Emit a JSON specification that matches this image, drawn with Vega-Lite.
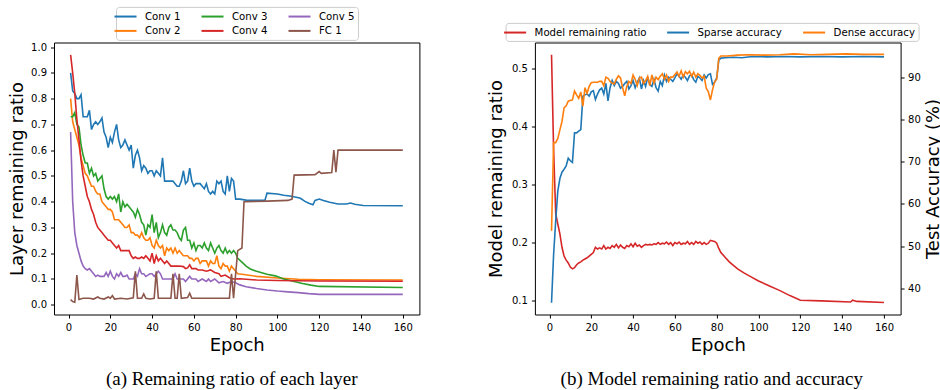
{
  "$schema": "https://vega.github.io/schema/vega-lite/v6.json",
  "background": "white",
  "padding": {"left": 8, "top": 5.5, "right": 0, "bottom": 0},
  "config": {
    "view": {"stroke": "black", "strokeWidth": 1},
    "font": "DejaVu Sans",
    "axis": {"grid": false, "domain": false, "tickColor": "black", "tickSize": 3.5, "tickWidth": 1, "labelFont": "DejaVu Sans", "labelFontSize": 10, "labelColor": "black", "titleFont": "DejaVu Sans", "titleFontSize": 18, "titleFontWeight": "normal", "titleColor": "black"},
    "legend": {"labelFont": "DejaVu Sans", "labelFontSize": 10.2, "labelColor": "black", "symbolType": "M-2,0L2,0", "symbolSize": 121, "symbolStrokeWidth": 2, "labelOffset": 13, "columnPadding": 16, "rowPadding": 2.5, "padding": 3, "strokeColor": "#cccccc", "fillColor": "white", "cornerRadius": 3},
    "title": {"font": "Liberation Serif", "fontSize": 19, "fontWeight": "normal", "color": "black", "orient": "bottom", "frame": "group", "anchor": "middle"}
  },
  "bounds": "flush",
  "spacing": 114.9,
  "resolve": {"scale": {"color": "independent"}, "legend": {"color": "independent"}},
  "datasets": {
    "layers": [
      {"epoch":1,"layer":"Conv 1","ratio":0.90},{"epoch":2,"layer":"Conv 1","ratio":0.83},{"epoch":3,"layer":"Conv 1","ratio":0.82},{"epoch":4,"layer":"Conv 1","ratio":0.80},{"epoch":5,"layer":"Conv 1","ratio":0.80},{"epoch":6,"layer":"Conv 1","ratio":0.815},{"epoch":7,"layer":"Conv 1","ratio":0.73},{"epoch":8,"layer":"Conv 1","ratio":0.73},{"epoch":9,"layer":"Conv 1","ratio":0.73},{"epoch":10,"layer":"Conv 1","ratio":0.755},{"epoch":11,"layer":"Conv 1","ratio":0.68},{"epoch":12,"layer":"Conv 1","ratio":0.70},{"epoch":13,"layer":"Conv 1","ratio":0.71},{"epoch":14,"layer":"Conv 1","ratio":0.70},{"epoch":15,"layer":"Conv 1","ratio":0.71},{"epoch":16,"layer":"Conv 1","ratio":0.725},{"epoch":17,"layer":"Conv 1","ratio":0.67},{"epoch":18,"layer":"Conv 1","ratio":0.65},{"epoch":19,"layer":"Conv 1","ratio":0.61},{"epoch":20,"layer":"Conv 1","ratio":0.65},{"epoch":21,"layer":"Conv 1","ratio":0.63},{"epoch":22,"layer":"Conv 1","ratio":0.67},{"epoch":23,"layer":"Conv 1","ratio":0.70},{"epoch":24,"layer":"Conv 1","ratio":0.64},{"epoch":25,"layer":"Conv 1","ratio":0.61},{"epoch":26,"layer":"Conv 1","ratio":0.62},{"epoch":27,"layer":"Conv 1","ratio":0.64},{"epoch":28,"layer":"Conv 1","ratio":0.62},{"epoch":29,"layer":"Conv 1","ratio":0.60},{"epoch":30,"layer":"Conv 1","ratio":0.62},{"epoch":31,"layer":"Conv 1","ratio":0.53},{"epoch":32,"layer":"Conv 1","ratio":0.58},{"epoch":33,"layer":"Conv 1","ratio":0.60},{"epoch":34,"layer":"Conv 1","ratio":0.57},{"epoch":35,"layer":"Conv 1","ratio":0.52},{"epoch":36,"layer":"Conv 1","ratio":0.54},{"epoch":37,"layer":"Conv 1","ratio":0.53},{"epoch":38,"layer":"Conv 1","ratio":0.51},{"epoch":39,"layer":"Conv 1","ratio":0.52},{"epoch":40,"layer":"Conv 1","ratio":0.52},{"epoch":41,"layer":"Conv 1","ratio":0.50},{"epoch":42,"layer":"Conv 1","ratio":0.52},{"epoch":43,"layer":"Conv 1","ratio":0.51},{"epoch":44,"layer":"Conv 1","ratio":0.50},{"epoch":45,"layer":"Conv 1","ratio":0.57},{"epoch":46,"layer":"Conv 1","ratio":0.48},{"epoch":47,"layer":"Conv 1","ratio":0.48},{"epoch":48,"layer":"Conv 1","ratio":0.48},{"epoch":49,"layer":"Conv 1","ratio":0.48},{"epoch":50,"layer":"Conv 1","ratio":0.48},{"epoch":51,"layer":"Conv 1","ratio":0.47},{"epoch":52,"layer":"Conv 1","ratio":0.46},{"epoch":53,"layer":"Conv 1","ratio":0.46},{"epoch":54,"layer":"Conv 1","ratio":0.48},{"epoch":55,"layer":"Conv 1","ratio":0.52},{"epoch":56,"layer":"Conv 1","ratio":0.47},{"epoch":57,"layer":"Conv 1","ratio":0.48},{"epoch":58,"layer":"Conv 1","ratio":0.53},{"epoch":59,"layer":"Conv 1","ratio":0.48},{"epoch":60,"layer":"Conv 1","ratio":0.46},{"epoch":61,"layer":"Conv 1","ratio":0.47},{"epoch":62,"layer":"Conv 1","ratio":0.47},{"epoch":63,"layer":"Conv 1","ratio":0.47},{"epoch":64,"layer":"Conv 1","ratio":0.46},{"epoch":65,"layer":"Conv 1","ratio":0.45},{"epoch":66,"layer":"Conv 1","ratio":0.47},{"epoch":67,"layer":"Conv 1","ratio":0.44},{"epoch":68,"layer":"Conv 1","ratio":0.43},{"epoch":69,"layer":"Conv 1","ratio":0.44},{"epoch":70,"layer":"Conv 1","ratio":0.43},{"epoch":71,"layer":"Conv 1","ratio":0.48},{"epoch":72,"layer":"Conv 1","ratio":0.47},{"epoch":73,"layer":"Conv 1","ratio":0.48},{"epoch":74,"layer":"Conv 1","ratio":0.44},{"epoch":75,"layer":"Conv 1","ratio":0.43},{"epoch":76,"layer":"Conv 1","ratio":0.50},{"epoch":77,"layer":"Conv 1","ratio":0.44},{"epoch":78,"layer":"Conv 1","ratio":0.49},{"epoch":79,"layer":"Conv 1","ratio":0.48},{"epoch":80,"layer":"Conv 1","ratio":0.41},{"epoch":82,"layer":"Conv 1","ratio":0.41},{"epoch":85,"layer":"Conv 1","ratio":0.406},{"epoch":88,"layer":"Conv 1","ratio":0.405},{"epoch":94,"layer":"Conv 1","ratio":0.405},{"epoch":95,"layer":"Conv 1","ratio":0.433},{"epoch":100,"layer":"Conv 1","ratio":0.43},{"epoch":103,"layer":"Conv 1","ratio":0.425},{"epoch":106,"layer":"Conv 1","ratio":0.422},{"epoch":109,"layer":"Conv 1","ratio":0.417},{"epoch":111,"layer":"Conv 1","ratio":0.413},{"epoch":113,"layer":"Conv 1","ratio":0.402},{"epoch":115,"layer":"Conv 1","ratio":0.394},{"epoch":117,"layer":"Conv 1","ratio":0.388},{"epoch":118,"layer":"Conv 1","ratio":0.405},{"epoch":120,"layer":"Conv 1","ratio":0.41},{"epoch":122,"layer":"Conv 1","ratio":0.405},{"epoch":125,"layer":"Conv 1","ratio":0.398},{"epoch":129,"layer":"Conv 1","ratio":0.391},{"epoch":133,"layer":"Conv 1","ratio":0.391},{"epoch":135,"layer":"Conv 1","ratio":0.395},{"epoch":137,"layer":"Conv 1","ratio":0.39},{"epoch":141,"layer":"Conv 1","ratio":0.385},{"epoch":160,"layer":"Conv 1","ratio":0.384},

      {"epoch":1,"layer":"Conv 2","ratio":0.80},{"epoch":2,"layer":"Conv 2","ratio":0.71},{"epoch":3,"layer":"Conv 2","ratio":0.68},{"epoch":4,"layer":"Conv 2","ratio":0.65},{"epoch":5,"layer":"Conv 2","ratio":0.62},{"epoch":6,"layer":"Conv 2","ratio":0.57},{"epoch":7,"layer":"Conv 2","ratio":0.54},{"epoch":8,"layer":"Conv 2","ratio":0.51},{"epoch":9,"layer":"Conv 2","ratio":0.50},{"epoch":10,"layer":"Conv 2","ratio":0.48},{"epoch":11,"layer":"Conv 2","ratio":0.46},{"epoch":12,"layer":"Conv 2","ratio":0.46},{"epoch":13,"layer":"Conv 2","ratio":0.44},{"epoch":14,"layer":"Conv 2","ratio":0.43},{"epoch":15,"layer":"Conv 2","ratio":0.43},{"epoch":16,"layer":"Conv 2","ratio":0.40},{"epoch":17,"layer":"Conv 2","ratio":0.39},{"epoch":18,"layer":"Conv 2","ratio":0.38},{"epoch":19,"layer":"Conv 2","ratio":0.37},{"epoch":20,"layer":"Conv 2","ratio":0.37},{"epoch":21,"layer":"Conv 2","ratio":0.36},{"epoch":22,"layer":"Conv 2","ratio":0.33},{"epoch":23,"layer":"Conv 2","ratio":0.33},{"epoch":24,"layer":"Conv 2","ratio":0.33},{"epoch":25,"layer":"Conv 2","ratio":0.32},{"epoch":26,"layer":"Conv 2","ratio":0.31},{"epoch":27,"layer":"Conv 2","ratio":0.30},{"epoch":28,"layer":"Conv 2","ratio":0.30},{"epoch":29,"layer":"Conv 2","ratio":0.31},{"epoch":30,"layer":"Conv 2","ratio":0.28},{"epoch":31,"layer":"Conv 2","ratio":0.28},{"epoch":32,"layer":"Conv 2","ratio":0.27},{"epoch":33,"layer":"Conv 2","ratio":0.27},{"epoch":34,"layer":"Conv 2","ratio":0.26},{"epoch":35,"layer":"Conv 2","ratio":0.28},{"epoch":36,"layer":"Conv 2","ratio":0.26},{"epoch":37,"layer":"Conv 2","ratio":0.25},{"epoch":38,"layer":"Conv 2","ratio":0.25},{"epoch":39,"layer":"Conv 2","ratio":0.26},{"epoch":40,"layer":"Conv 2","ratio":0.23},{"epoch":41,"layer":"Conv 2","ratio":0.22},{"epoch":42,"layer":"Conv 2","ratio":0.25},{"epoch":43,"layer":"Conv 2","ratio":0.23},{"epoch":44,"layer":"Conv 2","ratio":0.22},{"epoch":45,"layer":"Conv 2","ratio":0.23},{"epoch":46,"layer":"Conv 2","ratio":0.19},{"epoch":47,"layer":"Conv 2","ratio":0.22},{"epoch":48,"layer":"Conv 2","ratio":0.21},{"epoch":49,"layer":"Conv 2","ratio":0.22},{"epoch":50,"layer":"Conv 2","ratio":0.20},{"epoch":51,"layer":"Conv 2","ratio":0.22},{"epoch":52,"layer":"Conv 2","ratio":0.20},{"epoch":53,"layer":"Conv 2","ratio":0.21},{"epoch":54,"layer":"Conv 2","ratio":0.20},{"epoch":55,"layer":"Conv 2","ratio":0.19},{"epoch":56,"layer":"Conv 2","ratio":0.19},{"epoch":57,"layer":"Conv 2","ratio":0.19},{"epoch":58,"layer":"Conv 2","ratio":0.18},{"epoch":59,"layer":"Conv 2","ratio":0.18},{"epoch":60,"layer":"Conv 2","ratio":0.17},{"epoch":61,"layer":"Conv 2","ratio":0.18},{"epoch":62,"layer":"Conv 2","ratio":0.18},{"epoch":63,"layer":"Conv 2","ratio":0.16},{"epoch":64,"layer":"Conv 2","ratio":0.17},{"epoch":65,"layer":"Conv 2","ratio":0.17},{"epoch":66,"layer":"Conv 2","ratio":0.17},{"epoch":67,"layer":"Conv 2","ratio":0.15},{"epoch":68,"layer":"Conv 2","ratio":0.17},{"epoch":69,"layer":"Conv 2","ratio":0.16},{"epoch":70,"layer":"Conv 2","ratio":0.16},{"epoch":71,"layer":"Conv 2","ratio":0.19},{"epoch":72,"layer":"Conv 2","ratio":0.15},{"epoch":73,"layer":"Conv 2","ratio":0.14},{"epoch":74,"layer":"Conv 2","ratio":0.16},{"epoch":75,"layer":"Conv 2","ratio":0.15},{"epoch":76,"layer":"Conv 2","ratio":0.15},{"epoch":77,"layer":"Conv 2","ratio":0.13},{"epoch":78,"layer":"Conv 2","ratio":0.15},{"epoch":79,"layer":"Conv 2","ratio":0.14},{"epoch":80,"layer":"Conv 2","ratio":0.13},{"epoch":81,"layer":"Conv 2","ratio":0.12},{"epoch":83,"layer":"Conv 2","ratio":0.118},{"epoch":90,"layer":"Conv 2","ratio":0.11},{"epoch":100,"layer":"Conv 2","ratio":0.104},{"epoch":110,"layer":"Conv 2","ratio":0.099},{"epoch":120,"layer":"Conv 2","ratio":0.097},{"epoch":160,"layer":"Conv 2","ratio":0.096},

      {"epoch":1,"layer":"Conv 3","ratio":0.73},{"epoch":2,"layer":"Conv 3","ratio":0.73},{"epoch":3,"layer":"Conv 3","ratio":0.746},{"epoch":4,"layer":"Conv 3","ratio":0.70},{"epoch":5,"layer":"Conv 3","ratio":0.69},{"epoch":6,"layer":"Conv 3","ratio":0.62},{"epoch":7,"layer":"Conv 3","ratio":0.58},{"epoch":8,"layer":"Conv 3","ratio":0.55},{"epoch":9,"layer":"Conv 3","ratio":0.55},{"epoch":10,"layer":"Conv 3","ratio":0.51},{"epoch":11,"layer":"Conv 3","ratio":0.53},{"epoch":12,"layer":"Conv 3","ratio":0.50},{"epoch":13,"layer":"Conv 3","ratio":0.51},{"epoch":14,"layer":"Conv 3","ratio":0.48},{"epoch":15,"layer":"Conv 3","ratio":0.49},{"epoch":16,"layer":"Conv 3","ratio":0.50},{"epoch":17,"layer":"Conv 3","ratio":0.45},{"epoch":18,"layer":"Conv 3","ratio":0.42},{"epoch":19,"layer":"Conv 3","ratio":0.41},{"epoch":20,"layer":"Conv 3","ratio":0.42},{"epoch":21,"layer":"Conv 3","ratio":0.41},{"epoch":22,"layer":"Conv 3","ratio":0.42},{"epoch":23,"layer":"Conv 3","ratio":0.40},{"epoch":24,"layer":"Conv 3","ratio":0.43},{"epoch":25,"layer":"Conv 3","ratio":0.36},{"epoch":26,"layer":"Conv 3","ratio":0.40},{"epoch":27,"layer":"Conv 3","ratio":0.38},{"epoch":28,"layer":"Conv 3","ratio":0.39},{"epoch":29,"layer":"Conv 3","ratio":0.38},{"epoch":30,"layer":"Conv 3","ratio":0.37},{"epoch":31,"layer":"Conv 3","ratio":0.36},{"epoch":32,"layer":"Conv 3","ratio":0.34},{"epoch":33,"layer":"Conv 3","ratio":0.37},{"epoch":34,"layer":"Conv 3","ratio":0.35},{"epoch":35,"layer":"Conv 3","ratio":0.32},{"epoch":36,"layer":"Conv 3","ratio":0.31},{"epoch":37,"layer":"Conv 3","ratio":0.27},{"epoch":38,"layer":"Conv 3","ratio":0.31},{"epoch":39,"layer":"Conv 3","ratio":0.30},{"epoch":40,"layer":"Conv 3","ratio":0.35},{"epoch":41,"layer":"Conv 3","ratio":0.28},{"epoch":42,"layer":"Conv 3","ratio":0.32},{"epoch":43,"layer":"Conv 3","ratio":0.26},{"epoch":44,"layer":"Conv 3","ratio":0.28},{"epoch":45,"layer":"Conv 3","ratio":0.31},{"epoch":46,"layer":"Conv 3","ratio":0.28},{"epoch":47,"layer":"Conv 3","ratio":0.27},{"epoch":48,"layer":"Conv 3","ratio":0.30},{"epoch":49,"layer":"Conv 3","ratio":0.31},{"epoch":50,"layer":"Conv 3","ratio":0.29},{"epoch":51,"layer":"Conv 3","ratio":0.29},{"epoch":52,"layer":"Conv 3","ratio":0.28},{"epoch":53,"layer":"Conv 3","ratio":0.26},{"epoch":54,"layer":"Conv 3","ratio":0.25},{"epoch":55,"layer":"Conv 3","ratio":0.29},{"epoch":56,"layer":"Conv 3","ratio":0.30},{"epoch":57,"layer":"Conv 3","ratio":0.25},{"epoch":58,"layer":"Conv 3","ratio":0.25},{"epoch":59,"layer":"Conv 3","ratio":0.22},{"epoch":60,"layer":"Conv 3","ratio":0.24},{"epoch":61,"layer":"Conv 3","ratio":0.21},{"epoch":62,"layer":"Conv 3","ratio":0.23},{"epoch":63,"layer":"Conv 3","ratio":0.23},{"epoch":64,"layer":"Conv 3","ratio":0.22},{"epoch":65,"layer":"Conv 3","ratio":0.24},{"epoch":66,"layer":"Conv 3","ratio":0.22},{"epoch":67,"layer":"Conv 3","ratio":0.21},{"epoch":68,"layer":"Conv 3","ratio":0.24},{"epoch":69,"layer":"Conv 3","ratio":0.22},{"epoch":70,"layer":"Conv 3","ratio":0.20},{"epoch":71,"layer":"Conv 3","ratio":0.22},{"epoch":72,"layer":"Conv 3","ratio":0.23},{"epoch":73,"layer":"Conv 3","ratio":0.21},{"epoch":74,"layer":"Conv 3","ratio":0.20},{"epoch":75,"layer":"Conv 3","ratio":0.22},{"epoch":76,"layer":"Conv 3","ratio":0.20},{"epoch":77,"layer":"Conv 3","ratio":0.21},{"epoch":78,"layer":"Conv 3","ratio":0.20},{"epoch":79,"layer":"Conv 3","ratio":0.21},{"epoch":80,"layer":"Conv 3","ratio":0.20},{"epoch":81,"layer":"Conv 3","ratio":0.18},{"epoch":83,"layer":"Conv 3","ratio":0.165},{"epoch":85,"layer":"Conv 3","ratio":0.15},{"epoch":87,"layer":"Conv 3","ratio":0.139},{"epoch":90,"layer":"Conv 3","ratio":0.13},{"epoch":95,"layer":"Conv 3","ratio":0.118},{"epoch":99,"layer":"Conv 3","ratio":0.112},{"epoch":103,"layer":"Conv 3","ratio":0.10},{"epoch":108,"layer":"Conv 3","ratio":0.09},{"epoch":112,"layer":"Conv 3","ratio":0.082},{"epoch":116,"layer":"Conv 3","ratio":0.076},{"epoch":120,"layer":"Conv 3","ratio":0.071},{"epoch":160,"layer":"Conv 3","ratio":0.067},

      {"epoch":1,"layer":"Conv 4","ratio":0.97},{"epoch":2,"layer":"Conv 4","ratio":0.90},{"epoch":3,"layer":"Conv 4","ratio":0.82},{"epoch":4,"layer":"Conv 4","ratio":0.72},{"epoch":5,"layer":"Conv 4","ratio":0.64},{"epoch":6,"layer":"Conv 4","ratio":0.56},{"epoch":7,"layer":"Conv 4","ratio":0.50},{"epoch":8,"layer":"Conv 4","ratio":0.46},{"epoch":9,"layer":"Conv 4","ratio":0.42},{"epoch":10,"layer":"Conv 4","ratio":0.40},{"epoch":11,"layer":"Conv 4","ratio":0.37},{"epoch":12,"layer":"Conv 4","ratio":0.35},{"epoch":13,"layer":"Conv 4","ratio":0.32},{"epoch":14,"layer":"Conv 4","ratio":0.30},{"epoch":15,"layer":"Conv 4","ratio":0.29},{"epoch":16,"layer":"Conv 4","ratio":0.28},{"epoch":17,"layer":"Conv 4","ratio":0.27},{"epoch":18,"layer":"Conv 4","ratio":0.26},{"epoch":19,"layer":"Conv 4","ratio":0.25},{"epoch":20,"layer":"Conv 4","ratio":0.25},{"epoch":21,"layer":"Conv 4","ratio":0.24},{"epoch":22,"layer":"Conv 4","ratio":0.23},{"epoch":23,"layer":"Conv 4","ratio":0.22},{"epoch":24,"layer":"Conv 4","ratio":0.23},{"epoch":25,"layer":"Conv 4","ratio":0.21},{"epoch":26,"layer":"Conv 4","ratio":0.21},{"epoch":27,"layer":"Conv 4","ratio":0.21},{"epoch":28,"layer":"Conv 4","ratio":0.21},{"epoch":29,"layer":"Conv 4","ratio":0.21},{"epoch":30,"layer":"Conv 4","ratio":0.19},{"epoch":31,"layer":"Conv 4","ratio":0.18},{"epoch":32,"layer":"Conv 4","ratio":0.185},{"epoch":33,"layer":"Conv 4","ratio":0.18},{"epoch":34,"layer":"Conv 4","ratio":0.18},{"epoch":35,"layer":"Conv 4","ratio":0.185},{"epoch":36,"layer":"Conv 4","ratio":0.18},{"epoch":37,"layer":"Conv 4","ratio":0.19},{"epoch":38,"layer":"Conv 4","ratio":0.18},{"epoch":39,"layer":"Conv 4","ratio":0.17},{"epoch":40,"layer":"Conv 4","ratio":0.20},{"epoch":41,"layer":"Conv 4","ratio":0.16},{"epoch":42,"layer":"Conv 4","ratio":0.19},{"epoch":43,"layer":"Conv 4","ratio":0.17},{"epoch":44,"layer":"Conv 4","ratio":0.18},{"epoch":45,"layer":"Conv 4","ratio":0.17},{"epoch":46,"layer":"Conv 4","ratio":0.16},{"epoch":47,"layer":"Conv 4","ratio":0.17},{"epoch":48,"layer":"Conv 4","ratio":0.16},{"epoch":49,"layer":"Conv 4","ratio":0.15},{"epoch":50,"layer":"Conv 4","ratio":0.15},{"epoch":53,"layer":"Conv 4","ratio":0.15},{"epoch":55,"layer":"Conv 4","ratio":0.148},{"epoch":56,"layer":"Conv 4","ratio":0.14},{"epoch":57,"layer":"Conv 4","ratio":0.143},{"epoch":58,"layer":"Conv 4","ratio":0.155},{"epoch":59,"layer":"Conv 4","ratio":0.14},{"epoch":61,"layer":"Conv 4","ratio":0.14},{"epoch":62,"layer":"Conv 4","ratio":0.135},{"epoch":64,"layer":"Conv 4","ratio":0.135},{"epoch":66,"layer":"Conv 4","ratio":0.13},{"epoch":68,"layer":"Conv 4","ratio":0.135},{"epoch":70,"layer":"Conv 4","ratio":0.125},{"epoch":72,"layer":"Conv 4","ratio":0.12},{"epoch":73,"layer":"Conv 4","ratio":0.11},{"epoch":75,"layer":"Conv 4","ratio":0.115},{"epoch":77,"layer":"Conv 4","ratio":0.105},{"epoch":79,"layer":"Conv 4","ratio":0.10},{"epoch":82,"layer":"Conv 4","ratio":0.101},{"epoch":90,"layer":"Conv 4","ratio":0.096},{"epoch":100,"layer":"Conv 4","ratio":0.094},{"epoch":120,"layer":"Conv 4","ratio":0.092},{"epoch":160,"layer":"Conv 4","ratio":0.091},

      {"epoch":1,"layer":"Conv 5","ratio":0.67},{"epoch":2,"layer":"Conv 5","ratio":0.40},{"epoch":3,"layer":"Conv 5","ratio":0.28},{"epoch":4,"layer":"Conv 5","ratio":0.23},{"epoch":5,"layer":"Conv 5","ratio":0.20},{"epoch":6,"layer":"Conv 5","ratio":0.17},{"epoch":7,"layer":"Conv 5","ratio":0.15},{"epoch":8,"layer":"Conv 5","ratio":0.14},{"epoch":9,"layer":"Conv 5","ratio":0.135},{"epoch":10,"layer":"Conv 5","ratio":0.14},{"epoch":11,"layer":"Conv 5","ratio":0.13},{"epoch":12,"layer":"Conv 5","ratio":0.12},{"epoch":13,"layer":"Conv 5","ratio":0.11},{"epoch":14,"layer":"Conv 5","ratio":0.115},{"epoch":15,"layer":"Conv 5","ratio":0.11},{"epoch":16,"layer":"Conv 5","ratio":0.11},{"epoch":17,"layer":"Conv 5","ratio":0.11},{"epoch":18,"layer":"Conv 5","ratio":0.125},{"epoch":19,"layer":"Conv 5","ratio":0.11},{"epoch":20,"layer":"Conv 5","ratio":0.13},{"epoch":21,"layer":"Conv 5","ratio":0.11},{"epoch":22,"layer":"Conv 5","ratio":0.10},{"epoch":23,"layer":"Conv 5","ratio":0.12},{"epoch":24,"layer":"Conv 5","ratio":0.11},{"epoch":25,"layer":"Conv 5","ratio":0.125},{"epoch":26,"layer":"Conv 5","ratio":0.11},{"epoch":27,"layer":"Conv 5","ratio":0.11},{"epoch":28,"layer":"Conv 5","ratio":0.115},{"epoch":29,"layer":"Conv 5","ratio":0.10},{"epoch":30,"layer":"Conv 5","ratio":0.10},{"epoch":31,"layer":"Conv 5","ratio":0.10},{"epoch":32,"layer":"Conv 5","ratio":0.12},{"epoch":33,"layer":"Conv 5","ratio":0.11},{"epoch":34,"layer":"Conv 5","ratio":0.14},{"epoch":35,"layer":"Conv 5","ratio":0.12},{"epoch":36,"layer":"Conv 5","ratio":0.12},{"epoch":37,"layer":"Conv 5","ratio":0.11},{"epoch":38,"layer":"Conv 5","ratio":0.115},{"epoch":39,"layer":"Conv 5","ratio":0.12},{"epoch":40,"layer":"Conv 5","ratio":0.12},{"epoch":41,"layer":"Conv 5","ratio":0.11},{"epoch":42,"layer":"Conv 5","ratio":0.12},{"epoch":43,"layer":"Conv 5","ratio":0.13},{"epoch":44,"layer":"Conv 5","ratio":0.12},{"epoch":45,"layer":"Conv 5","ratio":0.10},{"epoch":47,"layer":"Conv 5","ratio":0.10},{"epoch":50,"layer":"Conv 5","ratio":0.10},{"epoch":51,"layer":"Conv 5","ratio":0.12},{"epoch":52,"layer":"Conv 5","ratio":0.10},{"epoch":55,"layer":"Conv 5","ratio":0.10},{"epoch":56,"layer":"Conv 5","ratio":0.09},{"epoch":58,"layer":"Conv 5","ratio":0.11},{"epoch":59,"layer":"Conv 5","ratio":0.10},{"epoch":61,"layer":"Conv 5","ratio":0.10},{"epoch":62,"layer":"Conv 5","ratio":0.09},{"epoch":64,"layer":"Conv 5","ratio":0.10},{"epoch":66,"layer":"Conv 5","ratio":0.09},{"epoch":67,"layer":"Conv 5","ratio":0.10},{"epoch":68,"layer":"Conv 5","ratio":0.09},{"epoch":70,"layer":"Conv 5","ratio":0.10},{"epoch":72,"layer":"Conv 5","ratio":0.085},{"epoch":74,"layer":"Conv 5","ratio":0.09},{"epoch":76,"layer":"Conv 5","ratio":0.083},{"epoch":78,"layer":"Conv 5","ratio":0.09},{"epoch":80,"layer":"Conv 5","ratio":0.085},{"epoch":82,"layer":"Conv 5","ratio":0.077},{"epoch":85,"layer":"Conv 5","ratio":0.07},{"epoch":90,"layer":"Conv 5","ratio":0.063},{"epoch":95,"layer":"Conv 5","ratio":0.057},{"epoch":100,"layer":"Conv 5","ratio":0.053},{"epoch":105,"layer":"Conv 5","ratio":0.05},{"epoch":110,"layer":"Conv 5","ratio":0.047},{"epoch":115,"layer":"Conv 5","ratio":0.043},{"epoch":120,"layer":"Conv 5","ratio":0.04},{"epoch":160,"layer":"Conv 5","ratio":0.04},

      {"epoch":1,"layer":"FC 1","ratio":0.02},{"epoch":2,"layer":"FC 1","ratio":0.012},{"epoch":3,"layer":"FC 1","ratio":0.01},{"epoch":4,"layer":"FC 1","ratio":0.115},{"epoch":5,"layer":"FC 1","ratio":0.02},{"epoch":7,"layer":"FC 1","ratio":0.025},{"epoch":10,"layer":"FC 1","ratio":0.025},{"epoch":12,"layer":"FC 1","ratio":0.022},{"epoch":14,"layer":"FC 1","ratio":0.03},{"epoch":15,"layer":"FC 1","ratio":0.025},{"epoch":17,"layer":"FC 1","ratio":0.022},{"epoch":19,"layer":"FC 1","ratio":0.03},{"epoch":20,"layer":"FC 1","ratio":0.025},{"epoch":21,"layer":"FC 1","ratio":0.035},{"epoch":22,"layer":"FC 1","ratio":0.022},{"epoch":25,"layer":"FC 1","ratio":0.025},{"epoch":28,"layer":"FC 1","ratio":0.022},{"epoch":31,"layer":"FC 1","ratio":0.027},{"epoch":32,"layer":"FC 1","ratio":0.13},{"epoch":33,"layer":"FC 1","ratio":0.025},{"epoch":35,"layer":"FC 1","ratio":0.025},{"epoch":36,"layer":"FC 1","ratio":0.042},{"epoch":37,"layer":"FC 1","ratio":0.025},{"epoch":39,"layer":"FC 1","ratio":0.022},{"epoch":41,"layer":"FC 1","ratio":0.025},{"epoch":42,"layer":"FC 1","ratio":0.13},{"epoch":43,"layer":"FC 1","ratio":0.025},{"epoch":49,"layer":"FC 1","ratio":0.025},{"epoch":50,"layer":"FC 1","ratio":0.12},{"epoch":51,"layer":"FC 1","ratio":0.025},{"epoch":52,"layer":"FC 1","ratio":0.025},{"epoch":53,"layer":"FC 1","ratio":0.12},{"epoch":54,"layer":"FC 1","ratio":0.025},{"epoch":57,"layer":"FC 1","ratio":0.028},{"epoch":58,"layer":"FC 1","ratio":0.045},{"epoch":59,"layer":"FC 1","ratio":0.025},{"epoch":65,"layer":"FC 1","ratio":0.025},{"epoch":70,"layer":"FC 1","ratio":0.025},{"epoch":77,"layer":"FC 1","ratio":0.025},{"epoch":78,"layer":"FC 1","ratio":0.12},{"epoch":79,"layer":"FC 1","ratio":0.025},{"epoch":80,"layer":"FC 1","ratio":0.12},{"epoch":81,"layer":"FC 1","ratio":0.21},{"epoch":83,"layer":"FC 1","ratio":0.22},{"epoch":84,"layer":"FC 1","ratio":0.40},{"epoch":95,"layer":"FC 1","ratio":0.402},{"epoch":105,"layer":"FC 1","ratio":0.405},{"epoch":107,"layer":"FC 1","ratio":0.41},{"epoch":108,"layer":"FC 1","ratio":0.503},{"epoch":118,"layer":"FC 1","ratio":0.505},{"epoch":120,"layer":"FC 1","ratio":0.517},{"epoch":121,"layer":"FC 1","ratio":0.51},{"epoch":126,"layer":"FC 1","ratio":0.513},{"epoch":127,"layer":"FC 1","ratio":0.60},{"epoch":128,"layer":"FC 1","ratio":0.515},{"epoch":129,"layer":"FC 1","ratio":0.60},{"epoch":160,"layer":"FC 1","ratio":0.60}
    ],
    "ratio": [
      {"epoch":1,"series":"Model remaining ratio","value":0.523},{"epoch":2,"series":"Model remaining ratio","value":0.36},{"epoch":3,"series":"Model remaining ratio","value":0.25},{"epoch":4,"series":"Model remaining ratio","value":0.232},{"epoch":5,"series":"Model remaining ratio","value":0.215},{"epoch":6,"series":"Model remaining ratio","value":0.192},{"epoch":7,"series":"Model remaining ratio","value":0.177},{"epoch":8,"series":"Model remaining ratio","value":0.17},{"epoch":9,"series":"Model remaining ratio","value":0.165},{"epoch":10,"series":"Model remaining ratio","value":0.158},{"epoch":11,"series":"Model remaining ratio","value":0.155},{"epoch":12,"series":"Model remaining ratio","value":0.157},{"epoch":13,"series":"Model remaining ratio","value":0.162},{"epoch":14,"series":"Model remaining ratio","value":0.165},{"epoch":15,"series":"Model remaining ratio","value":0.167},{"epoch":16,"series":"Model remaining ratio","value":0.17},{"epoch":17,"series":"Model remaining ratio","value":0.172},{"epoch":18,"series":"Model remaining ratio","value":0.174},{"epoch":19,"series":"Model remaining ratio","value":0.177},{"epoch":20,"series":"Model remaining ratio","value":0.18},{"epoch":21,"series":"Model remaining ratio","value":0.183},{"epoch":22,"series":"Model remaining ratio","value":0.192},{"epoch":23,"series":"Model remaining ratio","value":0.189},{"epoch":24,"series":"Model remaining ratio","value":0.191},{"epoch":25,"series":"Model remaining ratio","value":0.189},{"epoch":26,"series":"Model remaining ratio","value":0.195},{"epoch":27,"series":"Model remaining ratio","value":0.189},{"epoch":28,"series":"Model remaining ratio","value":0.192},{"epoch":29,"series":"Model remaining ratio","value":0.19},{"epoch":30,"series":"Model remaining ratio","value":0.195},{"epoch":31,"series":"Model remaining ratio","value":0.192},{"epoch":32,"series":"Model remaining ratio","value":0.197},{"epoch":33,"series":"Model remaining ratio","value":0.191},{"epoch":34,"series":"Model remaining ratio","value":0.196},{"epoch":35,"series":"Model remaining ratio","value":0.192},{"epoch":36,"series":"Model remaining ratio","value":0.19},{"epoch":37,"series":"Model remaining ratio","value":0.195},{"epoch":38,"series":"Model remaining ratio","value":0.193},{"epoch":39,"series":"Model remaining ratio","value":0.198},{"epoch":40,"series":"Model remaining ratio","value":0.193},{"epoch":41,"series":"Model remaining ratio","value":0.199},{"epoch":42,"series":"Model remaining ratio","value":0.194},{"epoch":43,"series":"Model remaining ratio","value":0.196},{"epoch":44,"series":"Model remaining ratio","value":0.192},{"epoch":45,"series":"Model remaining ratio","value":0.195},{"epoch":46,"series":"Model remaining ratio","value":0.197},{"epoch":47,"series":"Model remaining ratio","value":0.196},{"epoch":48,"series":"Model remaining ratio","value":0.197},{"epoch":49,"series":"Model remaining ratio","value":0.196},{"epoch":50,"series":"Model remaining ratio","value":0.198},{"epoch":51,"series":"Model remaining ratio","value":0.197},{"epoch":52,"series":"Model remaining ratio","value":0.2},{"epoch":53,"series":"Model remaining ratio","value":0.197},{"epoch":54,"series":"Model remaining ratio","value":0.199},{"epoch":55,"series":"Model remaining ratio","value":0.198},{"epoch":56,"series":"Model remaining ratio","value":0.201},{"epoch":57,"series":"Model remaining ratio","value":0.197},{"epoch":58,"series":"Model remaining ratio","value":0.2},{"epoch":59,"series":"Model remaining ratio","value":0.195},{"epoch":60,"series":"Model remaining ratio","value":0.2},{"epoch":61,"series":"Model remaining ratio","value":0.198},{"epoch":62,"series":"Model remaining ratio","value":0.201},{"epoch":63,"series":"Model remaining ratio","value":0.197},{"epoch":64,"series":"Model remaining ratio","value":0.199},{"epoch":65,"series":"Model remaining ratio","value":0.198},{"epoch":66,"series":"Model remaining ratio","value":0.202},{"epoch":67,"series":"Model remaining ratio","value":0.197},{"epoch":68,"series":"Model remaining ratio","value":0.2},{"epoch":69,"series":"Model remaining ratio","value":0.197},{"epoch":70,"series":"Model remaining ratio","value":0.202},{"epoch":71,"series":"Model remaining ratio","value":0.199},{"epoch":72,"series":"Model remaining ratio","value":0.201},{"epoch":73,"series":"Model remaining ratio","value":0.197},{"epoch":74,"series":"Model remaining ratio","value":0.2},{"epoch":75,"series":"Model remaining ratio","value":0.197},{"epoch":76,"series":"Model remaining ratio","value":0.199},{"epoch":77,"series":"Model remaining ratio","value":0.204},{"epoch":78,"series":"Model remaining ratio","value":0.203},{"epoch":79,"series":"Model remaining ratio","value":0.202},{"epoch":80,"series":"Model remaining ratio","value":0.199},{"epoch":81,"series":"Model remaining ratio","value":0.19},{"epoch":82,"series":"Model remaining ratio","value":0.183},{"epoch":84,"series":"Model remaining ratio","value":0.175},{"epoch":86,"series":"Model remaining ratio","value":0.167},{"epoch":88,"series":"Model remaining ratio","value":0.161},{"epoch":90,"series":"Model remaining ratio","value":0.155},{"epoch":93,"series":"Model remaining ratio","value":0.148},{"epoch":96,"series":"Model remaining ratio","value":0.142},{"epoch":100,"series":"Model remaining ratio","value":0.134},{"epoch":105,"series":"Model remaining ratio","value":0.126},{"epoch":110,"series":"Model remaining ratio","value":0.118},{"epoch":115,"series":"Model remaining ratio","value":0.109},{"epoch":120,"series":"Model remaining ratio","value":0.101},{"epoch":130,"series":"Model remaining ratio","value":0.1},{"epoch":144,"series":"Model remaining ratio","value":0.098},{"epoch":145,"series":"Model remaining ratio","value":0.101},{"epoch":147,"series":"Model remaining ratio","value":0.099},{"epoch":160,"series":"Model remaining ratio","value":0.097}
    ],
    "acc": [
      {"epoch":1,"series":"Sparse accuracy","value":36.6},{"epoch":2,"series":"Sparse accuracy","value":48},{"epoch":3,"series":"Sparse accuracy","value":56},{"epoch":4,"series":"Sparse accuracy","value":63},{"epoch":5,"series":"Sparse accuracy","value":66},{"epoch":6,"series":"Sparse accuracy","value":67.5},{"epoch":7,"series":"Sparse accuracy","value":68.2},{"epoch":8,"series":"Sparse accuracy","value":69},{"epoch":9,"series":"Sparse accuracy","value":70.8},{"epoch":10,"series":"Sparse accuracy","value":70.2},{"epoch":11,"series":"Sparse accuracy","value":69.8},{"epoch":12,"series":"Sparse accuracy","value":76.8},{"epoch":13,"series":"Sparse accuracy","value":76.8},{"epoch":14,"series":"Sparse accuracy","value":77.2},{"epoch":15,"series":"Sparse accuracy","value":77.6},{"epoch":16,"series":"Sparse accuracy","value":85.5},{"epoch":17,"series":"Sparse accuracy","value":85.8},{"epoch":18,"series":"Sparse accuracy","value":86},{"epoch":19,"series":"Sparse accuracy","value":85.5},{"epoch":20,"series":"Sparse accuracy","value":86.5},{"epoch":21,"series":"Sparse accuracy","value":86.8},{"epoch":22,"series":"Sparse accuracy","value":84.7},{"epoch":23,"series":"Sparse accuracy","value":86},{"epoch":24,"series":"Sparse accuracy","value":87},{"epoch":25,"series":"Sparse accuracy","value":87.4},{"epoch":26,"series":"Sparse accuracy","value":86},{"epoch":27,"series":"Sparse accuracy","value":88.5},{"epoch":28,"series":"Sparse accuracy","value":84.4},{"epoch":29,"series":"Sparse accuracy","value":87.5},{"epoch":30,"series":"Sparse accuracy","value":89.2},{"epoch":31,"series":"Sparse accuracy","value":88},{"epoch":32,"series":"Sparse accuracy","value":89},{"epoch":33,"series":"Sparse accuracy","value":88.5},{"epoch":34,"series":"Sparse accuracy","value":87.4},{"epoch":35,"series":"Sparse accuracy","value":87.8},{"epoch":36,"series":"Sparse accuracy","value":88.5},{"epoch":37,"series":"Sparse accuracy","value":89},{"epoch":38,"series":"Sparse accuracy","value":87.2},{"epoch":39,"series":"Sparse accuracy","value":88},{"epoch":40,"series":"Sparse accuracy","value":89.2},{"epoch":41,"series":"Sparse accuracy","value":87.5},{"epoch":42,"series":"Sparse accuracy","value":88.8},{"epoch":43,"series":"Sparse accuracy","value":89.8},{"epoch":44,"series":"Sparse accuracy","value":87.2},{"epoch":45,"series":"Sparse accuracy","value":89.2},{"epoch":46,"series":"Sparse accuracy","value":87.8},{"epoch":47,"series":"Sparse accuracy","value":90},{"epoch":48,"series":"Sparse accuracy","value":88.2},{"epoch":49,"series":"Sparse accuracy","value":87.8},{"epoch":50,"series":"Sparse accuracy","value":89.5},{"epoch":51,"series":"Sparse accuracy","value":87.5},{"epoch":52,"series":"Sparse accuracy","value":86.7},{"epoch":53,"series":"Sparse accuracy","value":89},{"epoch":54,"series":"Sparse accuracy","value":88},{"epoch":55,"series":"Sparse accuracy","value":90.5},{"epoch":56,"series":"Sparse accuracy","value":89},{"epoch":57,"series":"Sparse accuracy","value":90},{"epoch":58,"series":"Sparse accuracy","value":89.5},{"epoch":59,"series":"Sparse accuracy","value":89},{"epoch":60,"series":"Sparse accuracy","value":89.8},{"epoch":61,"series":"Sparse accuracy","value":90.8},{"epoch":62,"series":"Sparse accuracy","value":90.2},{"epoch":63,"series":"Sparse accuracy","value":89.5},{"epoch":64,"series":"Sparse accuracy","value":90.5},{"epoch":65,"series":"Sparse accuracy","value":90},{"epoch":66,"series":"Sparse accuracy","value":89.2},{"epoch":67,"series":"Sparse accuracy","value":90.3},{"epoch":68,"series":"Sparse accuracy","value":90.6},{"epoch":69,"series":"Sparse accuracy","value":89.4},{"epoch":70,"series":"Sparse accuracy","value":88.8},{"epoch":71,"series":"Sparse accuracy","value":90.2},{"epoch":72,"series":"Sparse accuracy","value":89.8},{"epoch":73,"series":"Sparse accuracy","value":89.2},{"epoch":74,"series":"Sparse accuracy","value":90.5},{"epoch":75,"series":"Sparse accuracy","value":89.8},{"epoch":76,"series":"Sparse accuracy","value":90.6},{"epoch":77,"series":"Sparse accuracy","value":90.8},{"epoch":78,"series":"Sparse accuracy","value":88.3},{"epoch":79,"series":"Sparse accuracy","value":88.8},{"epoch":80,"series":"Sparse accuracy","value":89.8},{"epoch":81,"series":"Sparse accuracy","value":94},{"epoch":82,"series":"Sparse accuracy","value":94.5},{"epoch":84,"series":"Sparse accuracy","value":94.6},{"epoch":88,"series":"Sparse accuracy","value":94.7},{"epoch":92,"series":"Sparse accuracy","value":94.6},{"epoch":97,"series":"Sparse accuracy","value":94.9},{"epoch":104,"series":"Sparse accuracy","value":94.8},{"epoch":112,"series":"Sparse accuracy","value":94.9},{"epoch":120,"series":"Sparse accuracy","value":94.8},{"epoch":130,"series":"Sparse accuracy","value":94.9},{"epoch":140,"series":"Sparse accuracy","value":94.8},{"epoch":150,"series":"Sparse accuracy","value":94.9},{"epoch":160,"series":"Sparse accuracy","value":94.8},

      {"epoch":1,"series":"Dense accuracy","value":53.6},{"epoch":2,"series":"Dense accuracy","value":74.5},{"epoch":3,"series":"Dense accuracy","value":74.5},{"epoch":4,"series":"Dense accuracy","value":75.5},{"epoch":5,"series":"Dense accuracy","value":77.5},{"epoch":6,"series":"Dense accuracy","value":79.5},{"epoch":7,"series":"Dense accuracy","value":82.7},{"epoch":8,"series":"Dense accuracy","value":83.2},{"epoch":9,"series":"Dense accuracy","value":84.3},{"epoch":10,"series":"Dense accuracy","value":84.5},{"epoch":11,"series":"Dense accuracy","value":84.6},{"epoch":12,"series":"Dense accuracy","value":86.7},{"epoch":13,"series":"Dense accuracy","value":85.8},{"epoch":14,"series":"Dense accuracy","value":85},{"epoch":15,"series":"Dense accuracy","value":86.5},{"epoch":16,"series":"Dense accuracy","value":83.1},{"epoch":17,"series":"Dense accuracy","value":87.5},{"epoch":18,"series":"Dense accuracy","value":86.2},{"epoch":19,"series":"Dense accuracy","value":87.8},{"epoch":20,"series":"Dense accuracy","value":88.7},{"epoch":21,"series":"Dense accuracy","value":88.8},{"epoch":22,"series":"Dense accuracy","value":88.8},{"epoch":23,"series":"Dense accuracy","value":88.8},{"epoch":24,"series":"Dense accuracy","value":89},{"epoch":25,"series":"Dense accuracy","value":89},{"epoch":26,"series":"Dense accuracy","value":88},{"epoch":27,"series":"Dense accuracy","value":90},{"epoch":28,"series":"Dense accuracy","value":89.7},{"epoch":29,"series":"Dense accuracy","value":89},{"epoch":30,"series":"Dense accuracy","value":88.6},{"epoch":31,"series":"Dense accuracy","value":88.4},{"epoch":32,"series":"Dense accuracy","value":89.5},{"epoch":33,"series":"Dense accuracy","value":90.3},{"epoch":34,"series":"Dense accuracy","value":89.8},{"epoch":35,"series":"Dense accuracy","value":87.5},{"epoch":36,"series":"Dense accuracy","value":85.6},{"epoch":37,"series":"Dense accuracy","value":87.8},{"epoch":38,"series":"Dense accuracy","value":89},{"epoch":39,"series":"Dense accuracy","value":88.5},{"epoch":40,"series":"Dense accuracy","value":90.5},{"epoch":41,"series":"Dense accuracy","value":89.5},{"epoch":42,"series":"Dense accuracy","value":88},{"epoch":43,"series":"Dense accuracy","value":89.8},{"epoch":44,"series":"Dense accuracy","value":90},{"epoch":45,"series":"Dense accuracy","value":88.5},{"epoch":46,"series":"Dense accuracy","value":89.2},{"epoch":47,"series":"Dense accuracy","value":90.2},{"epoch":48,"series":"Dense accuracy","value":88},{"epoch":49,"series":"Dense accuracy","value":90.5},{"epoch":50,"series":"Dense accuracy","value":88.6},{"epoch":51,"series":"Dense accuracy","value":90},{"epoch":52,"series":"Dense accuracy","value":89.4},{"epoch":53,"series":"Dense accuracy","value":90.2},{"epoch":54,"series":"Dense accuracy","value":90.8},{"epoch":55,"series":"Dense accuracy","value":89.5},{"epoch":56,"series":"Dense accuracy","value":90.5},{"epoch":57,"series":"Dense accuracy","value":89},{"epoch":58,"series":"Dense accuracy","value":90},{"epoch":59,"series":"Dense accuracy","value":90},{"epoch":60,"series":"Dense accuracy","value":90.6},{"epoch":61,"series":"Dense accuracy","value":91.2},{"epoch":62,"series":"Dense accuracy","value":90.2},{"epoch":63,"series":"Dense accuracy","value":91.5},{"epoch":64,"series":"Dense accuracy","value":90},{"epoch":65,"series":"Dense accuracy","value":91.3},{"epoch":66,"series":"Dense accuracy","value":90.8},{"epoch":67,"series":"Dense accuracy","value":91.4},{"epoch":68,"series":"Dense accuracy","value":90.2},{"epoch":69,"series":"Dense accuracy","value":91.2},{"epoch":70,"series":"Dense accuracy","value":90},{"epoch":71,"series":"Dense accuracy","value":90.8},{"epoch":72,"series":"Dense accuracy","value":90.4},{"epoch":73,"series":"Dense accuracy","value":89.8},{"epoch":74,"series":"Dense accuracy","value":90.2},{"epoch":75,"series":"Dense accuracy","value":87.4},{"epoch":76,"series":"Dense accuracy","value":86.5},{"epoch":77,"series":"Dense accuracy","value":84.6},{"epoch":78,"series":"Dense accuracy","value":87},{"epoch":79,"series":"Dense accuracy","value":88.9},{"epoch":80,"series":"Dense accuracy","value":89.5},{"epoch":81,"series":"Dense accuracy","value":94.5},{"epoch":82,"series":"Dense accuracy","value":95},{"epoch":85,"series":"Dense accuracy","value":95},{"epoch":90,"series":"Dense accuracy","value":95.2},{"epoch":96,"series":"Dense accuracy","value":95.3},{"epoch":103,"series":"Dense accuracy","value":95.2},{"epoch":110,"series":"Dense accuracy","value":95.3},{"epoch":117,"series":"Dense accuracy","value":95.5},{"epoch":125,"series":"Dense accuracy","value":95.3},{"epoch":133,"series":"Dense accuracy","value":95.4},{"epoch":142,"series":"Dense accuracy","value":95.5},{"epoch":150,"series":"Dense accuracy","value":95.4},{"epoch":160,"series":"Dense accuracy","value":95.4}
    ]
  },
  "hconcat": [
    {
      "width": 365.4,
      "height": 272,
      "title": {"text": "(a) Remaining ratio of each layer", "dx": -5, "offset": 16},
      "data": {"name": "layers"},
      "mark": {"type": "line", "strokeWidth": 1.6},
      "encoding": {
        "x": {"field": "epoch", "type": "quantitative", "scale": {"domain": [-6.95, 167.95], "nice": false, "zero": false}, "axis": {"values": [0, 20, 40, 60, 80, 100, 120, 140, 160], "title": "Epoch", "labelPadding": 4, "titlePadding": 4}},
        "y": {"field": "ratio", "type": "quantitative", "scale": {"domain": [-0.038, 1.018], "nice": false, "zero": false}, "axis": {"values": [0, 0.1, 0.2, 0.3, 0.4, 0.5, 0.6, 0.7, 0.8, 0.9, 1.0], "format": ".1f", "title": "Layer remaining ratio", "labelPadding": 4, "titlePadding": 4}},
        "color": {"field": "layer", "type": "nominal",
          "scale": {"domain": ["Conv 1", "Conv 3", "Conv 5", "Conv 2", "Conv 4", "FC 1"], "range": ["#1f77b4", "#2ca02c", "#9467bd", "#ff7f0e", "#d62728", "#8c564b"]},
          "legend": {"title": null, "orient": "none", "legendX": 62, "legendY": -35.6, "columns": 3, "direction": "horizontal", "symbolType": "M-2,0L2,0"}}
      }
    },
    {
      "width": 365.7,
      "height": 272,
      "title": {"text": "(b) Model remaining ratio and accuracy", "dx": -6, "offset": 16},
      "layer": [
        {
          "data": {"name": "ratio"},
          "mark": {"type": "line", "strokeWidth": 1.6},
          "encoding": {
            "x": {"field": "epoch", "type": "quantitative", "scale": {"domain": [-6.95, 167.95], "nice": false, "zero": false}, "axis": {"values": [0, 20, 40, 60, 80, 100, 120, 140, 160], "title": "Epoch", "labelPadding": 4, "titlePadding": 4}},
            "y": {"field": "value", "type": "quantitative", "scale": {"domain": [0.0765, 0.544], "nice": false, "zero": false}, "axis": {"orient": "left", "values": [0.1, 0.2, 0.3, 0.4, 0.5], "format": ".1f", "title": "Model remaining ratio", "labelPadding": 4, "titlePadding": 6}},
            "color": {"field": "series", "type": "nominal",
              "scale": {"domain": ["Model remaining ratio", "Sparse accuracy", "Dense accuracy"], "range": ["#d62728", "#1f77b4", "#ff7f0e"]},
              "legend": {"title": null, "orient": "none", "legendX": -29.3, "legendY": -19.6, "direction": "horizontal", "symbolType": "M-2,0L2,0"}}
          }
        },
        {
          "data": {"name": "acc"},
          "mark": {"type": "line", "strokeWidth": 1.6},
          "encoding": {
            "x": {"field": "epoch", "type": "quantitative", "scale": {"domain": [-6.95, 167.95], "nice": false, "zero": false}, "axis": {"values": [0, 20, 40, 60, 80, 100, 120, 140, 160], "title": "Epoch", "labelPadding": 4, "titlePadding": 4}},
            "y": {"field": "value", "type": "quantitative", "scale": {"domain": [33.8, 98.2], "nice": false, "zero": false}, "axis": {"orient": "right", "values": [40, 50, 60, 70, 80, 90], "title": "Test Accuracy (%)", "titleAngle": -90, "titleBaseline": "top", "labelPadding": 3.5, "titlePadding": 4}},
            "color": {"field": "series", "type": "nominal",
              "scale": {"domain": ["Model remaining ratio", "Sparse accuracy", "Dense accuracy"], "range": ["#d62728", "#1f77b4", "#ff7f0e"]},
              "legend": {"title": null, "orient": "none", "legendX": -29.3, "legendY": -19.6, "direction": "horizontal", "symbolType": "M-2,0L2,0"}}
          }
        }
      ],
      "resolve": {"scale": {"y": "independent"}}
    }
  ]
}
